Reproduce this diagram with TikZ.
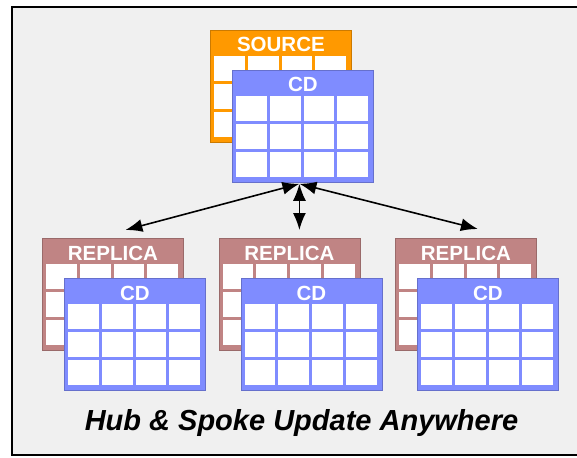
\documentclass[tikz,border=0pt]{standalone}
\usepackage{fontspec}
\setmainfont{Liberation Sans}
\usetikzlibrary{arrows.meta, calc, positioning}

\definecolor{srcorange}{HTML}{FF9900}
\definecolor{cdblue}{HTML}{7F8CFF}
\definecolor{replrose}{HTML}{C08484}
\definecolor{panel}{HTML}{F0F0F0}

% one table: name, x, y (top left), colour, title
\newcommand{\dbtab}[5]{%
  \node[tab, fill=#4, draw=#4!80!black, anchor=north west] (#1) at (#2,#3) {};
  \node[tabtitle, anchor=base] (#1-title) at ($(#1.north)+(0,22)$) {#5};
  \foreach \r in {0,1,2}
    \foreach \c in {0,1,2,3}
      \fill[white] ($(#1.north west)+(4+\c*33.75,26+\r*28)$) rectangle ++(30.75,25);
}

\begin{document}
\begin{tikzpicture}[
    x=1pt, y=-1pt,
    >={Latex[length=17pt, width=13pt]},
    tab/.style     ={rectangle, line width=0.8pt, inner sep=0pt,
                     minimum width=141pt, minimum height=112pt},
    tabtitle/.style={text=white, inner sep=0pt,
                     font=\fontsize{20.5}{24}\selectfont\bfseries},
    caption/.style ={inner sep=0pt,
                     font=\fontsize{29}{34}\selectfont\bfseries\itshape},
    flow/.style    ={<->, line width=1.6pt},
]
\useasboundingbox (0,0) rectangle (577,457);
\fill[white] (0,0) rectangle (577,457);
\begin{scope}
\clip (0,0) rectangle (577,457);
\draw[line width=2pt, fill=panel] (12,7) rectangle (600,455);
\end{scope}

% hub: source with its CD copy
\dbtab{src}{210}{30}{srcorange}{SOURCE}
\dbtab{cdhub}{232}{70}{cdblue}{CD}

% spokes: three replicas, each with a CD copy
\dbtab{replA}{42}{238}{replrose}{REPLICA}
\dbtab{cdA}{64}{278}{cdblue}{CD}
\dbtab{replB}{218.5}{238}{replrose}{REPLICA}
\dbtab{cdB}{240.5}{278}{cdblue}{CD}
\dbtab{replC}{395}{238}{replrose}{REPLICA}
\dbtab{cdC}{417}{278}{cdblue}{CD}

\coordinate (hub) at ($(cdhub.south)+(-3.5,1)$);
\coordinate (endA) at ($(replA.north)+(12.5,-8)$);
\coordinate (endB) at ($(hub |- replB.north)+(0,-8)$);
\coordinate (endC) at ($(replC.north)+(12,-9)$);
\draw[flow] (hub) -- (endA);
\draw[flow] (hub) -- (endB);
\draw[flow] (hub) -- (endC);

\node[caption, anchor=base] (cap) at (301.5,430) {Hub \& Spoke Update Anywhere};
\end{tikzpicture}
\end{document}
